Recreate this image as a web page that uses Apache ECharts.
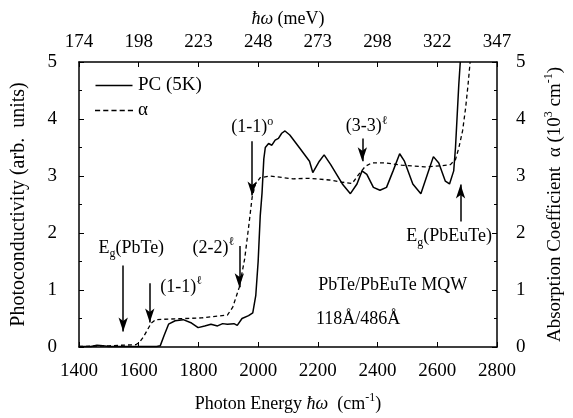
<!DOCTYPE html>
<html>
<head>
<meta charset="utf-8">
<script src="https://cdn.jsdelivr.net/npm/echarts@6/dist/echarts.min.js"></script>
<style>
html,body{margin:0;padding:0;background:#fff;}
#chart{width:573px;height:418px;}
</style>
</head>
<body>
<div id="chart"></div>
<script>
// ---- data ----
const xTickLabelsMeV = ['174','198','223','248','273','298','322','347'];
const pcEnergy = [1400,1440,1460,1480,1500,1550,1600,1660,1672,1685,1700,1722,1749,1777,1799,1821,1842,1864,1881,1897,1919,1930,1946,1968,1982,1992,2000,2007,2013,2019,2024,2035,2046,2057,2068,2079,2090,2106,2139,2172,2183,2205,2221,2243,2282,2309,2331,2348,2364,2386,2408,2430,2452,2474,2490,2518,2545,2567,2587,2605,2627,2641,2655,2661,2667,2672,2677];
const pcValue  = [0.01,0.01,0.03,0.02,0.01,0.01,0.01,0.01,0.02,0.20,0.40,0.46,0.48,0.42,0.34,0.37,0.40,0.37,0.41,0.40,0.41,0.38,0.50,0.55,0.60,0.90,1.50,2.30,2.70,3.30,3.50,3.57,3.54,3.63,3.66,3.75,3.79,3.72,3.49,3.26,3.06,3.26,3.37,3.20,2.86,2.69,2.86,3.09,3.03,2.80,2.75,2.80,3.09,3.39,3.26,2.86,2.69,3.03,3.34,3.23,2.91,2.86,3.09,3.50,4.10,4.60,5.00];
const alphaEnergy = [1400,1500,1535,1590,1602,1615,1627,1642,1657,1700,1810,1897,1915,1937,1955,1968,1980,1991,2007,2040,2117,2172,2238,2282,2315,2337,2359,2381,2425,2480,2557,2612,2644,2661,2672,2685,2695,2703,2710];
const alphaValue  = [0.01,0.02,0.03,0.04,0.08,0.17,0.28,0.42,0.48,0.49,0.51,0.56,0.70,1.05,1.55,2.10,2.63,2.86,2.97,3.00,2.95,2.96,2.93,2.89,2.87,3.03,3.17,3.23,3.23,3.19,3.16,3.18,3.20,3.29,3.49,3.80,4.20,4.60,5.00];

// annotation texts (data coordinates)
const noteText = ['{t|E}{sub|g}{t|(PbTe)}','{t|(1-1)}{sup|ℓ}','{t|(2-2)}{sup|ℓ}','{t|(1-1)}{sup|o}','{t|(3-3)}{sup|ℓ}','{t|E}{sub|g}{t|(PbEuTe)}','{t|PbTe/PbEuTe MQW}','{t|118Å/486Å}'];
const noteX = [1575,1742,1850,1980,2363,2640,2451,2335];
const noteY = [1.74,1.05,1.74,3.85,3.87,1.94,1.08,0.48];
// arrows: x, from y, to y (arrowhead at "to")
const arrowX    = [1548,1637,1937,1980,2349,2678];
const arrowFrom = [1.43,1.12,1.77,3.61,3.66,2.20];
const arrowTo   = [0.27,0.43,1.05,2.66,3.26,2.85];

const FONT = "'Liberation Serif', 'Times New Roman', 'DejaVu Serif', serif";
const chart = echarts.init(document.getElementById('chart'), null, {renderer:'canvas'});

function makeRich(size){
  return {
    t:{fontSize:size, fontFamily:FONT, color:'#000', lineHeight:size+6, verticalAlign:'middle'},
    i:{fontSize:size, fontFamily:FONT, fontStyle:'italic', color:'#000', lineHeight:size+6, verticalAlign:'middle'},
    sup:{fontSize:12, fontFamily:FONT, color:'#000', lineHeight:12, verticalAlign:'top'},
    sub:{fontSize:12, fontFamily:FONT, color:'#000', lineHeight:12, verticalAlign:'bottom'}
  };
}

const axisCommon = {
  type:'value', min:1400, max:2800, interval:200,
  axisLine:{show:true, onZero:false, lineStyle:{color:'#000', width:1.5}},
  axisTick:{show:true, inside:true, length:5, lineStyle:{color:'#000', width:1}},
  splitLine:{show:false}
};
const yCommon = {
  type:'value', min:0, max:5, interval:1,
  axisLine:{show:true, lineStyle:{color:'#000', width:1.5}},
  axisTick:{show:true, inside:true, length:5, lineStyle:{color:'#000', width:1}},
  minorTick:{show:true, splitNumber:2, length:3, lineStyle:{color:'#000', width:1}},
  splitLine:{show:false},
  axisLabel:{color:'#000', fontSize:19, fontFamily:FONT, margin:22, formatter:(v)=>String(v)}
};

const arrowLines = arrowX.map((x,i)=>[{coord:[x,arrowFrom[i]]},{coord:[x,arrowTo[i]]}]);

const dashIcon = 'path://M0 0h5v1.3H0z M8 0h5v1.3H8z M16 0h5v1.3H16z M24 0h5v1.3H24z M32 0h5v1.3H32z';
const solidIcon = 'path://M0 0h37v1.5H0z';

chart.setOption({
  animation:false,
  backgroundColor:'#fff',
  grid:{left:79, right:68, top:62, bottom:65, containLabel:false},
  legend:{
    left:90, top:71, orient:'vertical', itemWidth:38, itemHeight:1.5, itemGap:6,
    textStyle:{fontSize:19, fontFamily:FONT, color:'#000'},
    itemStyle:{color:'#000', borderWidth:0},
    lineStyle:{width:0},
    data:[{name:'PC (5K)', icon:solidIcon},{name:'α', icon:dashIcon}]
  },
  xAxis:[
    Object.assign({}, axisCommon, {
      position:'bottom',
      axisLabel:{color:'#000', fontSize:19, fontFamily:FONT, margin:15, formatter:(v)=>String(v)},
      name:'{t|Photon Energy }{i|ħω}{t|  (cm}{sup|-1}{t|)}',
      nameLocation:'middle', nameGap:45,
      nameTextStyle:{rich:makeRich(18)}
    }),
    Object.assign({}, axisCommon, {
      position:'top',
      axisLabel:{color:'#000', fontSize:19, fontFamily:FONT, margin:10,
        formatter:(v)=>xTickLabelsMeV[Math.round((v-1400)/200)]},
      name:'{i|ħω}{t| (meV)}',
      nameLocation:'middle', nameGap:30,
      nameTextStyle:{rich:makeRich(18)}
    })
  ],
  yAxis:[
    Object.assign({}, yCommon, {
      position:'left',
      name:'{t|Photoconductivity (arb.  units)}',
      nameLocation:'middle', nameGap:47, nameRotate:90,
      nameTextStyle:{rich:makeRich(20)}
    }),
    Object.assign({}, yCommon, {
      position:'right',
      axisLabel:{color:'#000', fontSize:19, fontFamily:FONT, margin:19, formatter:(v)=>String(v)},
      name:'{t|Absorption Coefficient  α (10}{sup|3}{t| cm}{sup|-1}{t|)}',
      nameLocation:'middle', nameGap:46, nameRotate:90,
      nameTextStyle:{rich:makeRich(19)}
    })
  ],
  series:[
    {
      name:'PC (5K)', type:'line', xAxisIndex:0, yAxisIndex:0,
      data:pcEnergy.map((x,i)=>[x,pcValue[i]]),
      showSymbol:false, symbol:'none', clip:true,
      lineStyle:{color:'#000', width:1.5, type:'solid'},
      itemStyle:{color:'#000'},
      markLine:{
        silent:true, symbol:['none','arrow'], symbolSize:[7,14],
        label:{show:false},
        lineStyle:{color:'#000', width:1.5, type:'solid'},
        data:arrowLines
      }
    },
    {
      name:'α', type:'line', xAxisIndex:0, yAxisIndex:1,
      data:alphaEnergy.map((x,i)=>[x,alphaValue[i]]),
      showSymbol:false, symbol:'none', clip:true,
      lineStyle:{color:'#000', width:1.3, type:[4,3]},
      itemStyle:{color:'#000'}
    },
    {
      name:'notes', type:'scatter', xAxisIndex:0, yAxisIndex:0,
      symbolSize:0, silent:true,
      itemStyle:{color:'#000', opacity:1},
      data:noteX.map((x,i)=>[x,noteY[i]]),
      label:{show:true, position:'inside', color:'#000', textBorderWidth:0, opacity:1,
        formatter:(p)=>noteText[p.dataIndex], rich:makeRich(18)}
    }
  ]
});
</script>
</body>
</html>
